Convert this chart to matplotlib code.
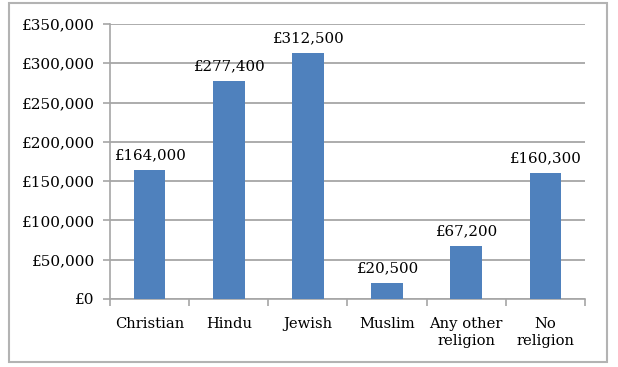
import matplotlib.pyplot as plt
from matplotlib.patches import Rectangle
from matplotlib.ticker import FuncFormatter

# Data
religions = ['Christian', 'Hindu', 'Jewish', 'Muslim', 'Any other\nreligion', 'No\nreligion']
wealth = [164000, 277400, 312500, 20500, 67200, 160300]
y_ticks = [0, 50000, 100000, 150000, 200000, 250000, 300000, 350000]

plt.rcParams['font.family'] = ['DejaVu Serif']

fig = plt.figure(figsize=(6.18, 3.67), dpi=100)
ax = fig.add_axes([110 / 618, 1 - 299 / 367, 475 / 618, 275 / 367])

# outer border of the chart area
fig.patches.append(Rectangle((9 / 618, 1 - 362 / 367), 598 / 618, 359 / 367,
                             transform=fig.transFigure, fill=False,
                             edgecolor='#b3b3b3', linewidth=1.5))

x = range(len(religions))
bars = ax.bar(x, wealth, width=0.4, color='#4F81BD', zorder=3)

for b, v in zip(bars, wealth):
    ax.text(b.get_x() + b.get_width() / 2, v + 10000, '£{:,}'.format(v),
            ha='center', va='bottom', fontsize=10.8, color='black')

ax.set_xlim(-0.5, len(religions) - 0.5)
ax.set_ylim(0, 350000)
ax.set_yticks(y_ticks)
ax.yaxis.set_major_formatter(FuncFormatter(lambda v, p: '£{:,}'.format(int(v))))
ax.grid(axis='y', color='#a6a6a6', linewidth=1.3, zorder=0)

# category labels between boundary ticks
ax.set_xticks([i - 0.5 for i in range(len(religions) + 1)])
ax.set_xticklabels([])
ax.set_xticks(list(x), minor=True)
ax.set_xticklabels(religions, minor=True, fontsize=10.6, linespacing=1.3)
ax.tick_params(axis='x', which='minor', length=0, pad=13)
ax.tick_params(axis='x', which='major', length=5, color='#a6a6a6', width=1.2)
ax.tick_params(axis='y', length=5, color='#a6a6a6', width=1.2, labelsize=11, pad=6)

for side in ['top', 'right']:
    ax.spines[side].set_visible(False)
ax.spines['left'].set_color('#a6a6a6')
ax.spines['bottom'].set_color('#a6a6a6')
ax.spines['left'].set_linewidth(1.2)
ax.spines['bottom'].set_linewidth(1.2)

fig.savefig('out.png', dpi=100)
